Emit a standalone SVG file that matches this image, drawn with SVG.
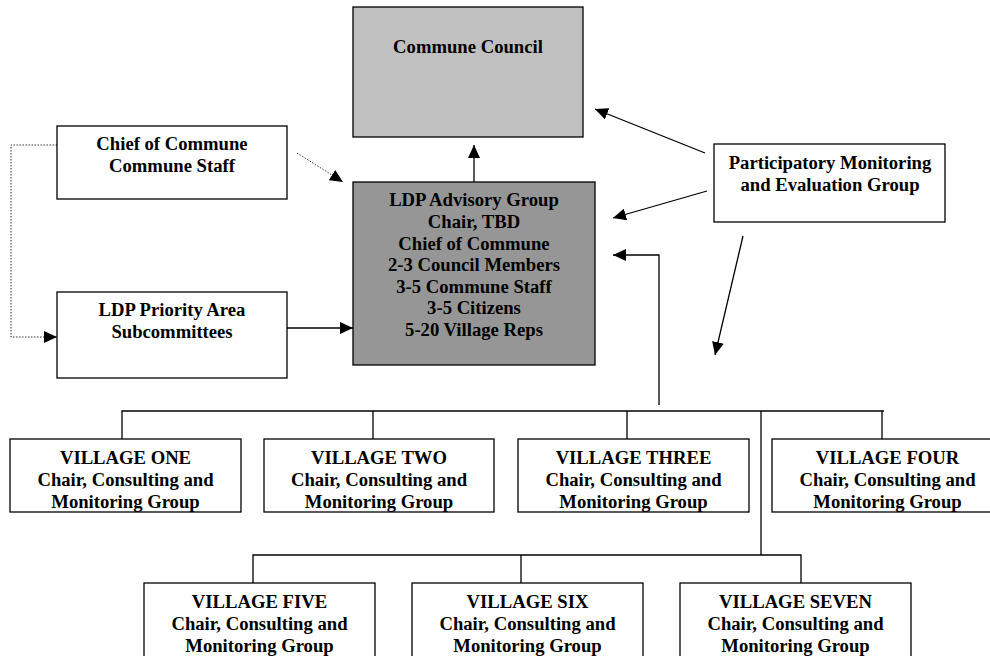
<svg xmlns="http://www.w3.org/2000/svg" width="990" height="656" viewBox="0 0 990 656">
<defs>
<style>
.box{fill:#fff;stroke:#000;stroke-width:1.3}
.t{font-family:"Liberation Serif","Times New Roman",serif;font-weight:bold;font-size:18.67px;fill:#000;text-anchor:middle}
.ln{fill:none;stroke:#000;stroke-width:1.3}
.dot{fill:none;stroke:#333;stroke-width:1;stroke-dasharray:1.5,1.5}
</style>
<marker id="ah" markerUnits="userSpaceOnUse" markerWidth="14" markerHeight="12" refX="13" refY="6" orient="auto">
<path d="M0,0 L13,6 L0,12 Z" fill="#000"/>
</marker>
</defs>
<rect width="990" height="656" fill="#fff"/>
<g id="connectors">
<line class="ln" x1="474" y1="182" x2="474" y2="145" marker-end="url(#ah)"/>
<line class="dot" x1="297" y1="153" x2="343" y2="182" marker-end="url(#ah)"/>
<polyline class="dot" points="57,145 11,145 11,337 57,337" marker-end="url(#ah)"/>
<line class="ln" x1="287" y1="328" x2="353" y2="328" marker-end="url(#ah)"/>
<line class="ln" x1="705" y1="153" x2="595" y2="109" marker-end="url(#ah)"/>
<line class="ln" x1="707" y1="191" x2="613" y2="218" marker-end="url(#ah)"/>
<line class="ln" x1="743" y1="236" x2="715" y2="355" marker-end="url(#ah)"/>
<polyline class="ln" points="659,405 659,255 613,255" marker-end="url(#ah)"/>
<polyline class="ln" points="122,439 122,411 884,411"/>
<line class="ln" x1="373" y1="411" x2="373" y2="439"/>
<line class="ln" x1="627" y1="411" x2="627" y2="439"/>
<line class="ln" x1="882" y1="411" x2="882" y2="439"/>
<line class="ln" x1="761" y1="411" x2="761" y2="555"/>
<polyline class="ln" points="253,583 253,555 801,555 801,583"/>
<line class="ln" x1="521" y1="555" x2="521" y2="583"/>
</g>
<g id="commune-council">
<rect x="353" y="7" width="230" height="130" fill="#c0c0c0" stroke="#000" stroke-width="1.3"/>
<text class="t" x="468" y="53">Commune Council</text>
</g>
<g id="chief">
<rect class="box" x="57" y="126" width="230" height="73"/>
<text class="t" x="172" y="150">Chief of Commune</text>
<text class="t" x="172" y="172">Commune Staff</text>
</g>
<g id="priority">
<rect class="box" x="57" y="292" width="230" height="86"/>
<text class="t" x="172" y="316">LDP Priority Area</text>
<text class="t" x="172" y="338">Subcommittees</text>
</g>
<g id="advisory">
<rect x="353" y="182" width="242" height="183" fill="#969696" stroke="#000" stroke-width="1.3"/>
<text class="t" x="474" y="206">LDP Advisory Group</text>
<text class="t" x="474" y="228">Chair, TBD</text>
<text class="t" x="474" y="250">Chief of Commune</text>
<text class="t" x="474" y="271">2-3 Council Members</text>
<text class="t" x="474" y="293">3-5 Commune Staff</text>
<text class="t" x="474" y="314">3-5 Citizens</text>
<text class="t" x="474" y="336">5-20 Village Reps</text>
</g>
<g id="participatory">
<rect class="box" x="714" y="144" width="231" height="78"/>
<text class="t" x="830" y="169">Participatory Monitoring</text>
<text class="t" x="830" y="191">and Evaluation Group</text>
</g>
<g id="village-one">
<rect class="box" x="10" y="439" width="231" height="73"/>
<text class="t" x="125.5" y="464">VILLAGE ONE</text>
<text class="t" x="125.5" y="486">Chair, Consulting and</text>
<text class="t" x="125.5" y="508">Monitoring Group</text>
</g>
<g id="village-two">
<rect class="box" x="264" y="439" width="230" height="73"/>
<text class="t" x="379" y="464">VILLAGE TWO</text>
<text class="t" x="379" y="486">Chair, Consulting and</text>
<text class="t" x="379" y="508">Monitoring Group</text>
</g>
<g id="village-three">
<rect class="box" x="518" y="439" width="231" height="73"/>
<text class="t" x="633.5" y="464">VILLAGE THREE</text>
<text class="t" x="633.5" y="486">Chair, Consulting and</text>
<text class="t" x="633.5" y="508">Monitoring Group</text>
</g>
<g id="village-four">
<rect class="box" x="772" y="439" width="231" height="73"/>
<text class="t" x="887.5" y="464">VILLAGE FOUR</text>
<text class="t" x="887.5" y="486">Chair, Consulting and</text>
<text class="t" x="887.5" y="508">Monitoring Group</text>
</g>
<g id="village-five">
<rect class="box" x="144" y="583" width="231" height="80"/>
<text class="t" x="259.5" y="608">VILLAGE FIVE</text>
<text class="t" x="259.5" y="630">Chair, Consulting and</text>
<text class="t" x="259.5" y="652">Monitoring Group</text>
</g>
<g id="village-six">
<rect class="box" x="412" y="583" width="231" height="80"/>
<text class="t" x="527.5" y="608">VILLAGE SIX</text>
<text class="t" x="527.5" y="630">Chair, Consulting and</text>
<text class="t" x="527.5" y="652">Monitoring Group</text>
</g>
<g id="village-seven">
<rect class="box" x="680" y="583" width="231" height="80"/>
<text class="t" x="795.5" y="608">VILLAGE SEVEN</text>
<text class="t" x="795.5" y="630">Chair, Consulting and</text>
<text class="t" x="795.5" y="652">Monitoring Group</text>
</g>
</svg>
